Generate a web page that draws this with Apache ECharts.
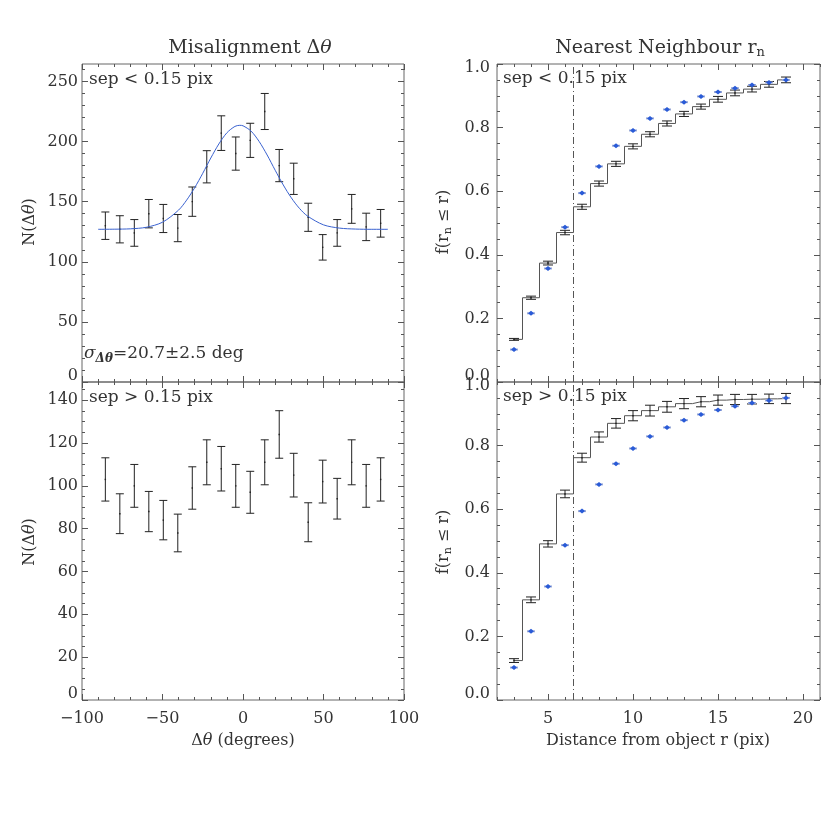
<!DOCTYPE html>
<html>
<head>
<meta charset="utf-8">
<title>Misalignment / Nearest Neighbour</title>
<script src="https://cdn.jsdelivr.net/npm/echarts@6/dist/echarts.min.js"></script>
<style>
body{margin:0;padding:0;background:#fff;}
#chartmain{width:830px;height:830px;}
</style>
</head>
<body>
<div id="chartmain"></div>
<script type="text/javascript">
// misalignment histograms, 9 degree bins
var thetaBins = [-85.5,-76.5,-67.5,-58.5,-49.5,-40.5,-31.5,-22.5,-13.5,-4.5,4.5,13.5,22.5,31.5,40.5,49.5,58.5,67.5,76.5,85.5];
var nCloseVal = [130,127,124,140,136,128,150,179,207,190,201,225,180,169,137,112,124,144,129,132];
var nCloseErr = [11.4,11.3,11.1,11.8,11.7,11.3,12.2,13.4,14.4,13.8,14.2,15.0,13.4,13.0,11.7,10.6,11.1,12.0,11.4,11.5];
var nWideVal = [103,87,100,88,84,78,99,111,108,100,97,111,124,105,83,102,94,111,100,103];
var nWideErr = [10.1,9.3,10.0,9.4,9.2,8.8,9.9,10.5,10.4,10.0,9.8,10.5,11.1,10.2,9.1,10.0,9.5,10.5,10.0,10.1];
// fitted curve
var fitTheta = [-90,-80,-70,-60,-50,-40,-35,-30,-25,-20,-15,-10,-5,-2,0,5,10,15,20,25,30,35,40,50,60,70,80,90];
var fitN = [127.0,127.1,127.4,128.7,132.9,143.0,151.3,161.6,173.6,186.3,198.0,207.3,212.6,213.5,213.1,208.7,200.1,188.8,176.1,163.9,153.2,144.5,138.1,130.7,128.0,127.2,127.0,127.0];

// nearest neighbour cumulative fractions
var rBins = [3,4,5,6,7,8,9,10,11,12,13,14,15,16,17,18,19];
var fCloseVal = [0.134,0.265,0.374,0.470,0.551,0.624,0.686,0.741,0.779,0.813,0.843,0.866,0.889,0.909,0.921,0.936,0.950];
var fCloseErr = [0.003,0.005,0.006,0.007,0.008,0.008,0.008,0.008,0.008,0.008,0.008,0.008,0.009,0.009,0.009,0.009,0.009];
var fWideVal = [0.124,0.315,0.491,0.648,0.762,0.827,0.870,0.894,0.910,0.922,0.932,0.938,0.943,0.945,0.946,0.947,0.948];
var fWideErr = [0.006,0.009,0.010,0.012,0.014,0.016,0.015,0.016,0.017,0.017,0.016,0.016,0.016,0.016,0.015,0.015,0.016];
var fRandom = [0.102,0.216,0.357,0.487,0.594,0.678,0.743,0.791,0.829,0.857,0.880,0.898,0.912,0.924,0.934,0.942,0.950];
var rCut = 6.5;

// tick labels
var thetaTicks = [-100,-50,0,50,100];
var nCloseTicks = [0,50,100,150,200,250];
var nWideTicks = [0,20,40,60,80,100,120,140];
var rTicks = [5,10,15,20];
var fTicks = [0,0.2,0.4,0.6,0.8,1.0];

var font = 'DejaVu Serif';
var textCol = '#333';
var axisCol = '#555';

function steps(a, b, d) {
	var out = [];
	for (var v = a; v <= b + 1e-9; v += d) out.push(+v.toFixed(4));
	return out;
}

var lblRich = {
	lo:{padding:[0,0,12,0], fontFamily:font, fontSize:16, color:textCol},
	hi:{padding:[8,0,0,0], fontFamily:font, fontSize:16, color:textCol}
};

function tickAxis(grid, pos, min, max, values, len, fmt, margin) {
	return {
		type:'value', gridIndex:grid, position:pos, min:min, max:max,
		axisLine:{show:false, onZero:false}, splitLine:{show:false},
		axisTick:{show:true, inside:true, length:len, customValues:values, lineStyle:{color:axisCol, width:1}},
		axisLabel:{show:!!fmt, customValues:values, formatter:fmt, margin:margin || 8,
			color:textCol, fontFamily:font, fontSize:16, rich:lblRich}
	};
}
// 4 axes per side pair: labelled major, minor, mirrored major, mirrored minor
function frameAxes(isX, grid, min, max, major, minor, fmt, margin) {
	var p = isX ? ['bottom','top'] : ['left','right'];
	return [
		tickAxis(grid, p[0], min, max, major, 6, fmt, margin),
		tickAxis(grid, p[0], min, max, minor, 3),
		tickAxis(grid, p[1], min, max, major, 6),
		tickAxis(grid, p[1], min, max, minor, 3)
	];
}

function fmtTheta(v) { return v < 0 ? '\u2212' + (-v) : '' + v; }
function fmtCount(v) { return v === 0 ? '{lo|0}' : '' + v; }
function fmtFrac(v) {
	if (v === 0) return '{lo|0.0}';
	if (v === 1) return '{hi|1.0}';
	return v.toFixed(1);
}

var xAxes = [].concat(
	frameAxes(true, 0, -100, 100, thetaTicks, steps(-100,100,10)),
	frameAxes(true, 1, -100, 100, thetaTicks, steps(-100,100,10), fmtTheta, 11),
	frameAxes(true, 2, 2, 21, rTicks, steps(2,21,1)),
	frameAxes(true, 3, 2, 21, rTicks, steps(2,21,1), function(v){ return '' + v; }, 11)
);
var yAxes = [].concat(
	frameAxes(false, 0, 0, 264.5, nCloseTicks, steps(0,260,10), fmtCount, 4),
	frameAxes(false, 1, 0, 148.5, nWideTicks, steps(0,145,5), fmtCount, 4),
	frameAxes(false, 2, 0, 1, fTicks, steps(0,1,0.05), fmtFrac, 7),
	frameAxes(false, 3, 0, 1, fTicks, steps(0,1,0.05), fmtFrac, 7)
);

function errItem(cap) {
	return function (params, api) {
		var x = api.value(0);
		var a = api.coord([x, api.value(1)]);
		var b = api.coord([x, api.value(2)]);
		var m = api.coord([x, api.value(3)]);
		var st = {stroke:'#222', lineWidth:1};
		return {type:'group', children:[
			{type:'line', shape:{x1:a[0], y1:a[1], x2:b[0], y2:b[1]}, style:st},
			{type:'line', shape:{x1:a[0]-cap, y1:a[1], x2:a[0]+cap, y2:a[1]}, style:st},
			{type:'line', shape:{x1:b[0]-cap, y1:b[1], x2:b[0]+cap, y2:b[1]}, style:st},
			{type:'rect', shape:{x:m[0]-0.7, y:m[1]-0.7, width:1.4, height:1.4}, style:{fill:'#222'}}
		]};
	};
}
function randItem(params, api) {
	var p = api.coord([api.value(0), api.value(1)]);
	return {type:'group', children:[
		{type:'line', shape:{x1:p[0]-4, y1:p[1], x2:p[0]+4, y2:p[1]}, style:{stroke:'#9aaad8', lineWidth:2}},
		{type:'polygon', shape:{points:[[p[0]-3,p[1]],[p[0],p[1]-2.5],[p[0]+3,p[1]],[p[0],p[1]+2.5]]}, style:{fill:'#2a5bd7'}}
	]};
}
function errData(xs, vals, errs) {
	return xs.map(function (x, i) { return [x, vals[i]-errs[i], vals[i]+errs[i], vals[i]]; });
}
function pairs(xs, ys) {
	return xs.map(function (x, i) { return [x, ys[i]]; });
}

function errSeries(g, xs, vals, errs, cap) {
	return {type:'custom', xAxisIndex:g*4, yAxisIndex:g*4, renderItem:errItem(cap),
		data:errData(xs, vals, errs), silent:true, z:3};
}
function stepSeries(g, vals) {
	return {type:'line', xAxisIndex:g*4, yAxisIndex:g*4, step:'middle', data:pairs(rBins, vals),
		showSymbol:false, lineStyle:{color:'#555', width:1}, silent:true, z:2};
}
function randSeries(g) {
	return {type:'custom', xAxisIndex:g*4, yAxisIndex:g*4, renderItem:randItem,
		data:pairs(rBins, fRandom), silent:true, z:4};
}
function cutSeries(g) {
	return {type:'line', xAxisIndex:g*4, yAxisIndex:g*4, data:[[rCut,0],[rCut,1]],
		showSymbol:false, lineStyle:{color:'#555', width:1, type:[7,3,1,3]}, silent:true, z:1};
}

function gridAt(left, top, width) {
	return {left:left, top:top, width:width, height:318, show:true,
		borderColor:'#666', borderWidth:1, backgroundColor:'transparent'};
}

function label(x, y, text, size, rot, align) {
	var el = {type:'text', x:x, y:y, rotation:rot || 0, silent:true,
		style:{text:text, fill:textCol, font:size + 'px "' + font + '"',
			fontFamily:font, fontSize:size,
			align:align || 'center', verticalAlign:'middle',
			textAlign:align || 'center', textVerticalAlign:'middle',
			rich:{
				a:{fontFamily:font, fontSize:size, fill:textCol, color:textCol},
				i:{fontFamily:font, fontSize:size, fontStyle:'italic', fill:textCol, color:textCol},
				s:{fontFamily:font, fontSize:Math.round(size*0.7), fill:textCol, color:textCol, padding:[9,0,0,0]},
				si:{fontFamily:font, fontSize:Math.round(size*0.7), fontStyle:'italic', fontWeight:'bold', fill:textCol, color:textCol, padding:[9,0,0,0]}
			}}};
	return el;
}

var myChart = echarts.init(document.getElementById('chartmain'), null, {renderer:'canvas'});
myChart.setOption({
	animation:false,
	backgroundColor:'#fff',
	grid:[gridAt(82,64,322), gridAt(82,382,322), gridAt(497,64,323), gridAt(497,382,323)],
	xAxis:xAxes,
	yAxis:yAxes,
	series:[
		errSeries(0, thetaBins, nCloseVal, nCloseErr, 4),
		{type:'line', xAxisIndex:0, yAxisIndex:0, data:pairs(fitTheta, fitN), smooth:0.3,
			showSymbol:false, lineStyle:{color:'#3a62d0', width:1}, silent:true, z:4},
		errSeries(1, thetaBins, nWideVal, nWideErr, 4),
		cutSeries(2), stepSeries(2, fCloseVal), errSeries(2, rBins, fCloseVal, fCloseErr, 5), randSeries(2),
		cutSeries(3), stepSeries(3, fWideVal), errSeries(3, rBins, fWideVal, fWideErr, 5), randSeries(3)
	],
	graphic:[
		label(250, 48, '{a|Misalignment \u0394}{i|\u03b8}', 19),
		label(660, 48, '{a|Nearest Neighbour r}{s|n}', 19),
		label(243, 741, '{a|\u0394}{i|\u03b8}{a| (degrees)}', 16),
		label(658, 741, 'Distance from object r (pix)', 16),
		label(30, 222, '{a|N(\u0394}{i|\u03b8}{a|)}', 16, Math.PI/2),
		label(30, 542, '{a|N(\u0394}{i|\u03b8}{a|)}', 16, Math.PI/2),
		label(444, 222, '{a|f(r}{s|n}{a| \u2264 r)}', 16, Math.PI/2),
		label(444, 542, '{a|f(r}{s|n}{a| \u2264 r)}', 16, Math.PI/2),
		label(89, 80, 'sep < 0.15 pix', 17, 0, 'left'),
		label(89, 398, 'sep > 0.15 pix', 17, 0, 'left'),
		label(503, 79, 'sep < 0.15 pix', 17, 0, 'left'),
		label(503, 397, 'sep > 0.15 pix', 17, 0, 'left'),
		label(84, 354, '{i|\u03c3}{si|\u0394\u03b8}{a|=20.7\u00b12.5 deg}', 17, 0, 'left')
	]
});
</script>
</body>
</html>
